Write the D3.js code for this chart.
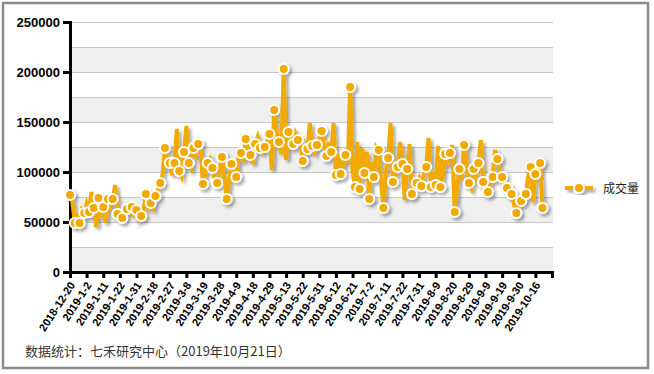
<!DOCTYPE html>
<html>
<head>
<meta charset="utf-8">
<script src="https://cdn.jsdelivr.net/npm/d3@7"></script>
<style>
  body { margin: 0; background: #fff; }
  svg { display: block; }
</style>
</head>
<body>
<div id="chart"></div>
<script>
// trading volume, one value per trading day (2018-12-20 .. 2019-10-21)
const volume = [
    77000, 70000, 49000, 56000, 49000, 62000, 59000, 68000, 60000, 80000,
    64000, 45000, 74000, 60000, 65000, 49000, 73000, 66000, 73000, 87000,
    58000, 52000, 54000, 58000, 63000, 60000, 65000, 58000, 62000, 52000,
    56000, 62000, 78000, 65000, 69000, 64000, 76000, 82000, 89000, 98000,
    124000, 112000, 109000, 97000, 109000, 143000, 101000, 96000, 120000, 146000,
    109000, 104000, 124000, 118000, 128000, 122000, 88000, 100000, 109000, 113000,
    104000, 92000, 89000, 100000, 115000, 96000, 73000, 90000, 108000, 100000,
    95000, 116000, 119000, 110000, 133000, 122000, 117000, 108000, 128000, 135000,
    124000, 120000, 125000, 131000, 138000, 102000, 162000, 140000, 130000, 118000,
    203000, 112000, 140000, 136000, 128000, 138000, 132000, 130000, 111000, 120000,
    123000, 149000, 126000, 120000, 127000, 134000, 141000, 125000, 116000, 130000,
    120000, 149000, 97000, 118000, 98000, 106000, 117000, 110000, 185000, 100000,
    85000, 130000, 83000, 124000, 99000, 120000, 73000, 110000, 95000, 125000,
    122000, 90000, 64000, 100000, 114000, 149000, 90000, 96000, 105000, 130000,
    108000, 72000, 103000, 128000, 78000, 85000, 89000, 94000, 86000, 97000,
    105000, 134000, 85000, 100000, 87000, 126000, 85000, 96000, 118000, 107000,
    119000, 127000, 60000, 82000, 103000, 92000, 127000, 110000, 89000, 84000,
    103000, 96000, 109000, 132000, 90000, 85000, 80000, 87000, 95000, 122000,
    113000, 100000, 95000, 90000, 84000, 82000, 78000, 68000, 59000, 66000,
    71000, 73000, 78000, 96000, 105000, 70000, 98000, 106000, 109000, 64000
];

// one label every 7 trading days
const tickLabels = [
    "2018-12-20", "2019-1-2", "2019-1-11", "2019-1-22", "2019-1-31", "2019-2-18",
    "2019-2-27", "2019-3-8", "2019-3-19", "2019-3-28", "2019-4-9", "2019-4-18",
    "2019-4-29", "2019-5-13", "2019-5-22", "2019-5-31", "2019-6-12", "2019-6-21",
    "2019-7-2", "2019-7-11", "2019-7-22", "2019-7-31", "2019-8-9", "2019-8-20",
    "2019-8-29", "2019-9-9", "2019-9-19", "2019-9-30", "2019-10-16"
];
const yTicks = [0, 50000, 100000, 150000, 200000, 250000];
const seriesName = "成交量";
const source = "数据统计：七禾研究中心（2019年10月21日）";

const width = 654, height = 374;
const plot = { left: 70, right: 552, top: 22, bottom: 272 };
const orange = "#f2a900";
const labelStep = 7;

const svg = d3.select("#chart").append("svg")
    .attr("width", width)
    .attr("height", height);

const defs = svg.append("defs");
const shadow = defs.append("filter").attr("id", "shadow")
    .attr("x", "-10%").attr("y", "-10%").attr("width", "130%").attr("height", "130%");
shadow.append("feDropShadow")
    .attr("dx", 2.5).attr("dy", 2.5).attr("stdDeviation", 1.5)
    .attr("flood-color", "#000").attr("flood-opacity", 0.35);

// outer frame
svg.append("rect")
    .attr("x", 3).attr("y", 3)
    .attr("width", 645).attr("height", 365)
    .attr("fill", "#fff")
    .attr("stroke", "#8c8c8c")
    .attr("stroke-width", 2.5);

const x = d3.scaleLinear().domain([0, labelStep * tickLabels.length]).range([plot.left, plot.right]);
const y = d3.scaleLinear().domain([0, 250000]).range([plot.bottom, plot.top]);

// alternating bands
const bandEdges = d3.range(0, 250001, 25000);
svg.append("g").selectAll("rect")
    .data(bandEdges.slice(0, -1))
    .join("rect")
    .attr("x", plot.left)
    .attr("y", d => y(d + 25000))
    .attr("width", plot.right - plot.left + 1)
    .attr("height", d => y(d) - y(d + 25000))
    .attr("fill", d => (d / 25000) % 2 === 0 ? "#efefef" : "#fff");

svg.append("g").selectAll("line")
    .data(bandEdges)
    .join("line")
    .attr("x1", plot.left).attr("x2", plot.right + 1)
    .attr("y1", d => y(d) + 0.5).attr("y2", d => y(d) + 0.5)
    .attr("stroke", "#c6c6c6")
    .attr("stroke-width", 1);

// y axis
const yAxis = svg.append("g")
    .attr("transform", `translate(${plot.left},0)`)
    .call(d3.axisLeft(y).tickValues(yTicks).tickSize(7).tickPadding(3).tickFormat(d3.format("d")));
yAxis.select(".domain").attr("stroke", "#000").attr("stroke-width", 3);
yAxis.selectAll(".tick line").attr("stroke", "#000").attr("stroke-width", 3);
yAxis.selectAll("text")
    .attr("font-family", "Liberation Sans, Arial, sans-serif")
    .attr("font-weight", "bold")
    .attr("font-size", 13)
    .attr("fill", "#000");

// x axis
const xTicks = d3.range(0, labelStep * tickLabels.length + 1, labelStep);
const xAxis = svg.append("g")
    .attr("transform", `translate(0,${plot.bottom})`)
    .call(d3.axisBottom(x).tickValues(xTicks).tickSize(6).tickFormat(d => tickLabels[d / labelStep] || ""));
xAxis.select(".domain").attr("stroke", "#000").attr("stroke-width", 3);
xAxis.selectAll(".tick line").attr("stroke", "#000").attr("stroke-width", 3);
xAxis.selectAll("text")
    .attr("font-family", "Liberation Sans, Arial, sans-serif")
    .attr("font-weight", "bold")
    .attr("font-size", 11)
    .attr("fill", "#000")
    .attr("text-anchor", "end")
    .attr("dy", 0)
    .attr("y", 0)
    .attr("transform", "translate(5,13) rotate(-57)");

// series
const line = d3.line()
    .x((d, i) => x(i))
    .y(d => y(d));

const series = svg.append("g").attr("filter", "url(#shadow)");
series.append("path")
    .datum(volume)
    .attr("fill", "none")
    .attr("stroke", orange)
    .attr("stroke-width", 4)
    .attr("stroke-linejoin", "miter")
    .attr("d", line);

// markers sit on every second day, plus the last one
const marked = volume.map((v, i) => ({ v, i }))
    .filter(d => d.i % 2 === 0 || d.i === volume.length - 1);
series.selectAll("circle")
    .data(marked)
    .join("circle")
    .attr("cx", d => x(d.i))
    .attr("cy", d => y(d.v))
    .attr("r", 5)
    .attr("fill", orange)
    .attr("stroke", "#fff")
    .attr("stroke-width", 2);

// legend
const legend = svg.append("g").attr("transform", "translate(565,188)");
const legendMark = legend.append("g").attr("filter", "url(#shadow)");
legendMark.append("line")
    .attr("x1", 0).attr("x2", 28)
    .attr("stroke", orange).attr("stroke-width", 4);
legendMark.append("circle")
    .attr("cx", 14).attr("r", 5)
    .attr("fill", orange).attr("stroke", "#fff").attr("stroke-width", 2);
legend.append("text")
    .attr("x", 38).attr("y", 4.5)
    .attr("font-family", "Noto Sans CJK SC, sans-serif")
    .attr("font-size", 12)
    .attr("fill", "#222")
    .text(seriesName);

// source note
svg.append("text")
    .attr("x", 25).attr("y", 356)
    .attr("font-family", "Noto Sans CJK SC, sans-serif")
    .attr("font-size", 13)
    .attr("fill", "#333")
    .text(source);
</script>
</body>
</html>
